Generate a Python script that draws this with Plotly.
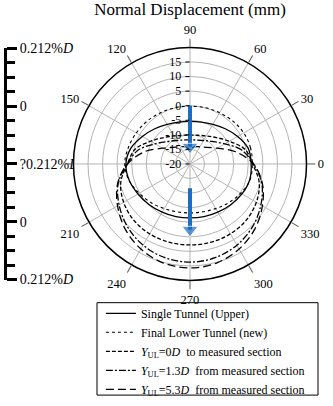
import plotly.graph_objects as go

# ---- data ----
theta_deg = [0, 15, 30, 45, 60, 75, 90, 105, 120, 135, 150, 165,
             180, 195, 210, 225, 240, 255, 270, 285, 300, 315, 330, 345, 360]

single_upper = [1.0, 0.7, -1.1, -2.9, -4.3, -5.1, -5.4, -5.1, -4.3, -2.9, -1.1, 1.0,
                2.0, 1.6, 0.6, -0.2, -0.9, -1.3, -1.5, -1.3, -0.9, -0.2, 0.6, 1.2, 1.0]
final_lower = [1.4, 1.5, 1.3, 0.8, 0.3, 0.0, -0.2, 0.0, 0.3, 0.8, 1.3, 1.9,
               2.4, 1.7, 0.1, -1.2, -2.3, -3.0, -3.2, -3.0, -2.3, -1.2, 0.1, 1.3, 1.4]
yul_0d = [1.5, -0.5, -4.4, -7.2, -8.9, -9.8, -10.1, -9.8, -8.9, -7.2, -4.4, -0.5,
          1.5, 4.6, 6.3, 7.3, 7.7, 7.8, 7.8, 7.8, 7.7, 7.3, 6.3, 4.6, 1.5]
yul_13d = [1.8, -1.6, -6.2, -9.1, -10.7, -11.5, -11.7, -11.5, -10.7, -9.1, -6.2, -1.6,
           1.5, 5.5, 8.1, 10.4, 12.2, 13.3, 13.7, 13.3, 12.2, 10.4, 8.1, 5.5, 1.8]
yul_53d = [1.8, -3.8, -9.2, -11.9, -13.2, -13.9, -15.0, -13.9, -13.2, -11.9, -9.2, -3.8,
           1.5, 5.7, 8.7, 11.5, 13.7, 15.2, 15.7, 15.2, 13.7, 11.5, 8.7, 5.7, 1.8]

series_names = [
    "Single Tunnel (Upper)",
    "Final Lower Tunnel (new)",
    "<i>Y</i><sub>UL</sub>=0<i>D</i>  to measured section",
    "<i>Y</i><sub>UL</sub>=1.3<i>D</i>  from measured section",
    "<i>Y</i><sub>UL</sub>=5.3<i>D</i>  from measured section",
]
series_values = [single_upper, final_lower, yul_0d, yul_13d, yul_53d]

# arrows (direction angle, start value, head value)
arrow_theta = [90, 270]
arrow_start = [0.0, -11.7]
arrow_head = [-14.1, 2.6]

angle_ticks = [0, 30, 60, 90, 120, 150, 180, 210, 240, 270, 300, 330]
angle_labels = ["0", "30", "60", "90", "120", "150", "", "210", "240", "270", "300", "330"]
radial_ticks = [-20, -15, -10, -5, 0, 5, 10, 15]
radial_labels = ["-20", "-15", "-10", "-5", "0", "5", "10", "15"]

scale_ticks = [2, 1, 0, -1, -2]
scale_labels = ["0.212%<i>D</i>", "0", "?0.212%<i>D</i>", "0", "0.212%<i>D</i>"]

# ---- styling ----
SERIF = "Liberation Serif"
styles = [
    dict(dash="solid", width=1.3),
    dict(dash="dot", width=1.1),
    dict(dash="4px,2px", width=1.3),
    dict(dash="7px,2px,2px,2px", width=1.3),
    dict(dash="8px,4px", width=1.3),
]
ARROW = "#1a6dc2"

fig = go.Figure()
for name, vals, st in zip(series_names, series_values, styles):
    fig.add_trace(go.Scatterpolar(
        r=vals, theta=theta_deg, mode="lines", name=name,
        line=dict(color="black", dash=st["dash"], width=st["width"], shape="spline"),
    ))

for th, r0, r1 in zip(arrow_theta, arrow_start, arrow_head):
    fig.add_trace(go.Scatterpolar(
        r=[r0, r1], theta=[th, th], mode="lines+markers", showlegend=False,
        line=dict(color=ARROW, width=4),
        marker=dict(symbol="triangle-down", size=[0, 14], color=ARROW),
    ))

# empty trace so that the left scale-bar axis gets drawn
fig.add_trace(go.Scatter(x=[], y=[], xaxis="x2", yaxis="y2", showlegend=False,
                         hoverinfo="skip"))

# frame drawn round the legend entries
fig.add_shape(type="rect", xref="paper", yref="paper",
              x0=0.2913, x1=0.955, y0=0.0074, y1=0.2438,
              line=dict(color="black", width=1), fillcolor="rgba(0,0,0,0)", layer="above")

fig.update_layout(
    width=333, height=406, autosize=False,
    margin=dict(l=0, r=0, t=0, b=0),
    paper_bgcolor="white", plot_bgcolor="white",
    font=dict(family=SERIF, color="black", size=12),
    title=dict(text="Normal Displacement (mm)", x=0.5706, xanchor="center",
               y=0.993, yanchor="top", font=dict(size=17, family=SERIF, color="black")),
    polar=dict(
        domain=dict(x=[0.2072, 0.9339], y=[0.3005, 0.8966]),
        bgcolor="white",
        angularaxis=dict(
            rotation=0, direction="counterclockwise",
            tickmode="array", tickvals=angle_ticks, ticktext=angle_labels,
            showline=True, linecolor="black", linewidth=1.5,
            showgrid=True, gridcolor="#b5b5b5", gridwidth=1,
            ticks="outside", ticklen=8, tickcolor="#555555",
            tickfont=dict(size=12.5, family=SERIF, color="black"),
        ),
        radialaxis=dict(
            range=[-20, 20], angle=90, tickangle=90, side="counterclockwise",
            tickmode="array", tickvals=radial_ticks, ticktext=radial_labels,
            showline=False, showgrid=True, gridcolor="#b5b5b5", gridwidth=1,
            ticks="outside", ticklen=4, tickcolor="black",
            tickfont=dict(size=12, family=SERIF, color="black"),
        ),
    ),
    xaxis2=dict(domain=[0, 0.012], anchor="y2", visible=False, range=[0, 1]),
    yaxis2=dict(
        domain=[0.3030, 0.8941], anchor="x2", side="right", range=[-2, 2],
        tickmode="array", tickvals=scale_ticks, ticktext=scale_labels,
        showline=True, linecolor="black", linewidth=3,
        ticks="outside", ticklen=10, tickwidth=2.5, tickcolor="black",
        minor=dict(dtick=0.25, tick0=0, ticks="outside", ticklen=8, tickwidth=2.5,
                   tickcolor="black", showgrid=False),
        showgrid=False, zeroline=False,
        tickfont=dict(size=14, family=SERIF, color="black"),
    ),
    legend=dict(
        x=0.303, y=0.2537, xanchor="left", yanchor="top",
        borderwidth=0, bgcolor="rgba(0,0,0,0)",
        font=dict(size=12, family=SERIF, color="black"),
        tracegroupgap=0, itemwidth=30,
    ),
)

fig.write_html("out.html", config={"displayModeBar": False},
               post_script="document.body.style.margin='0px';")
